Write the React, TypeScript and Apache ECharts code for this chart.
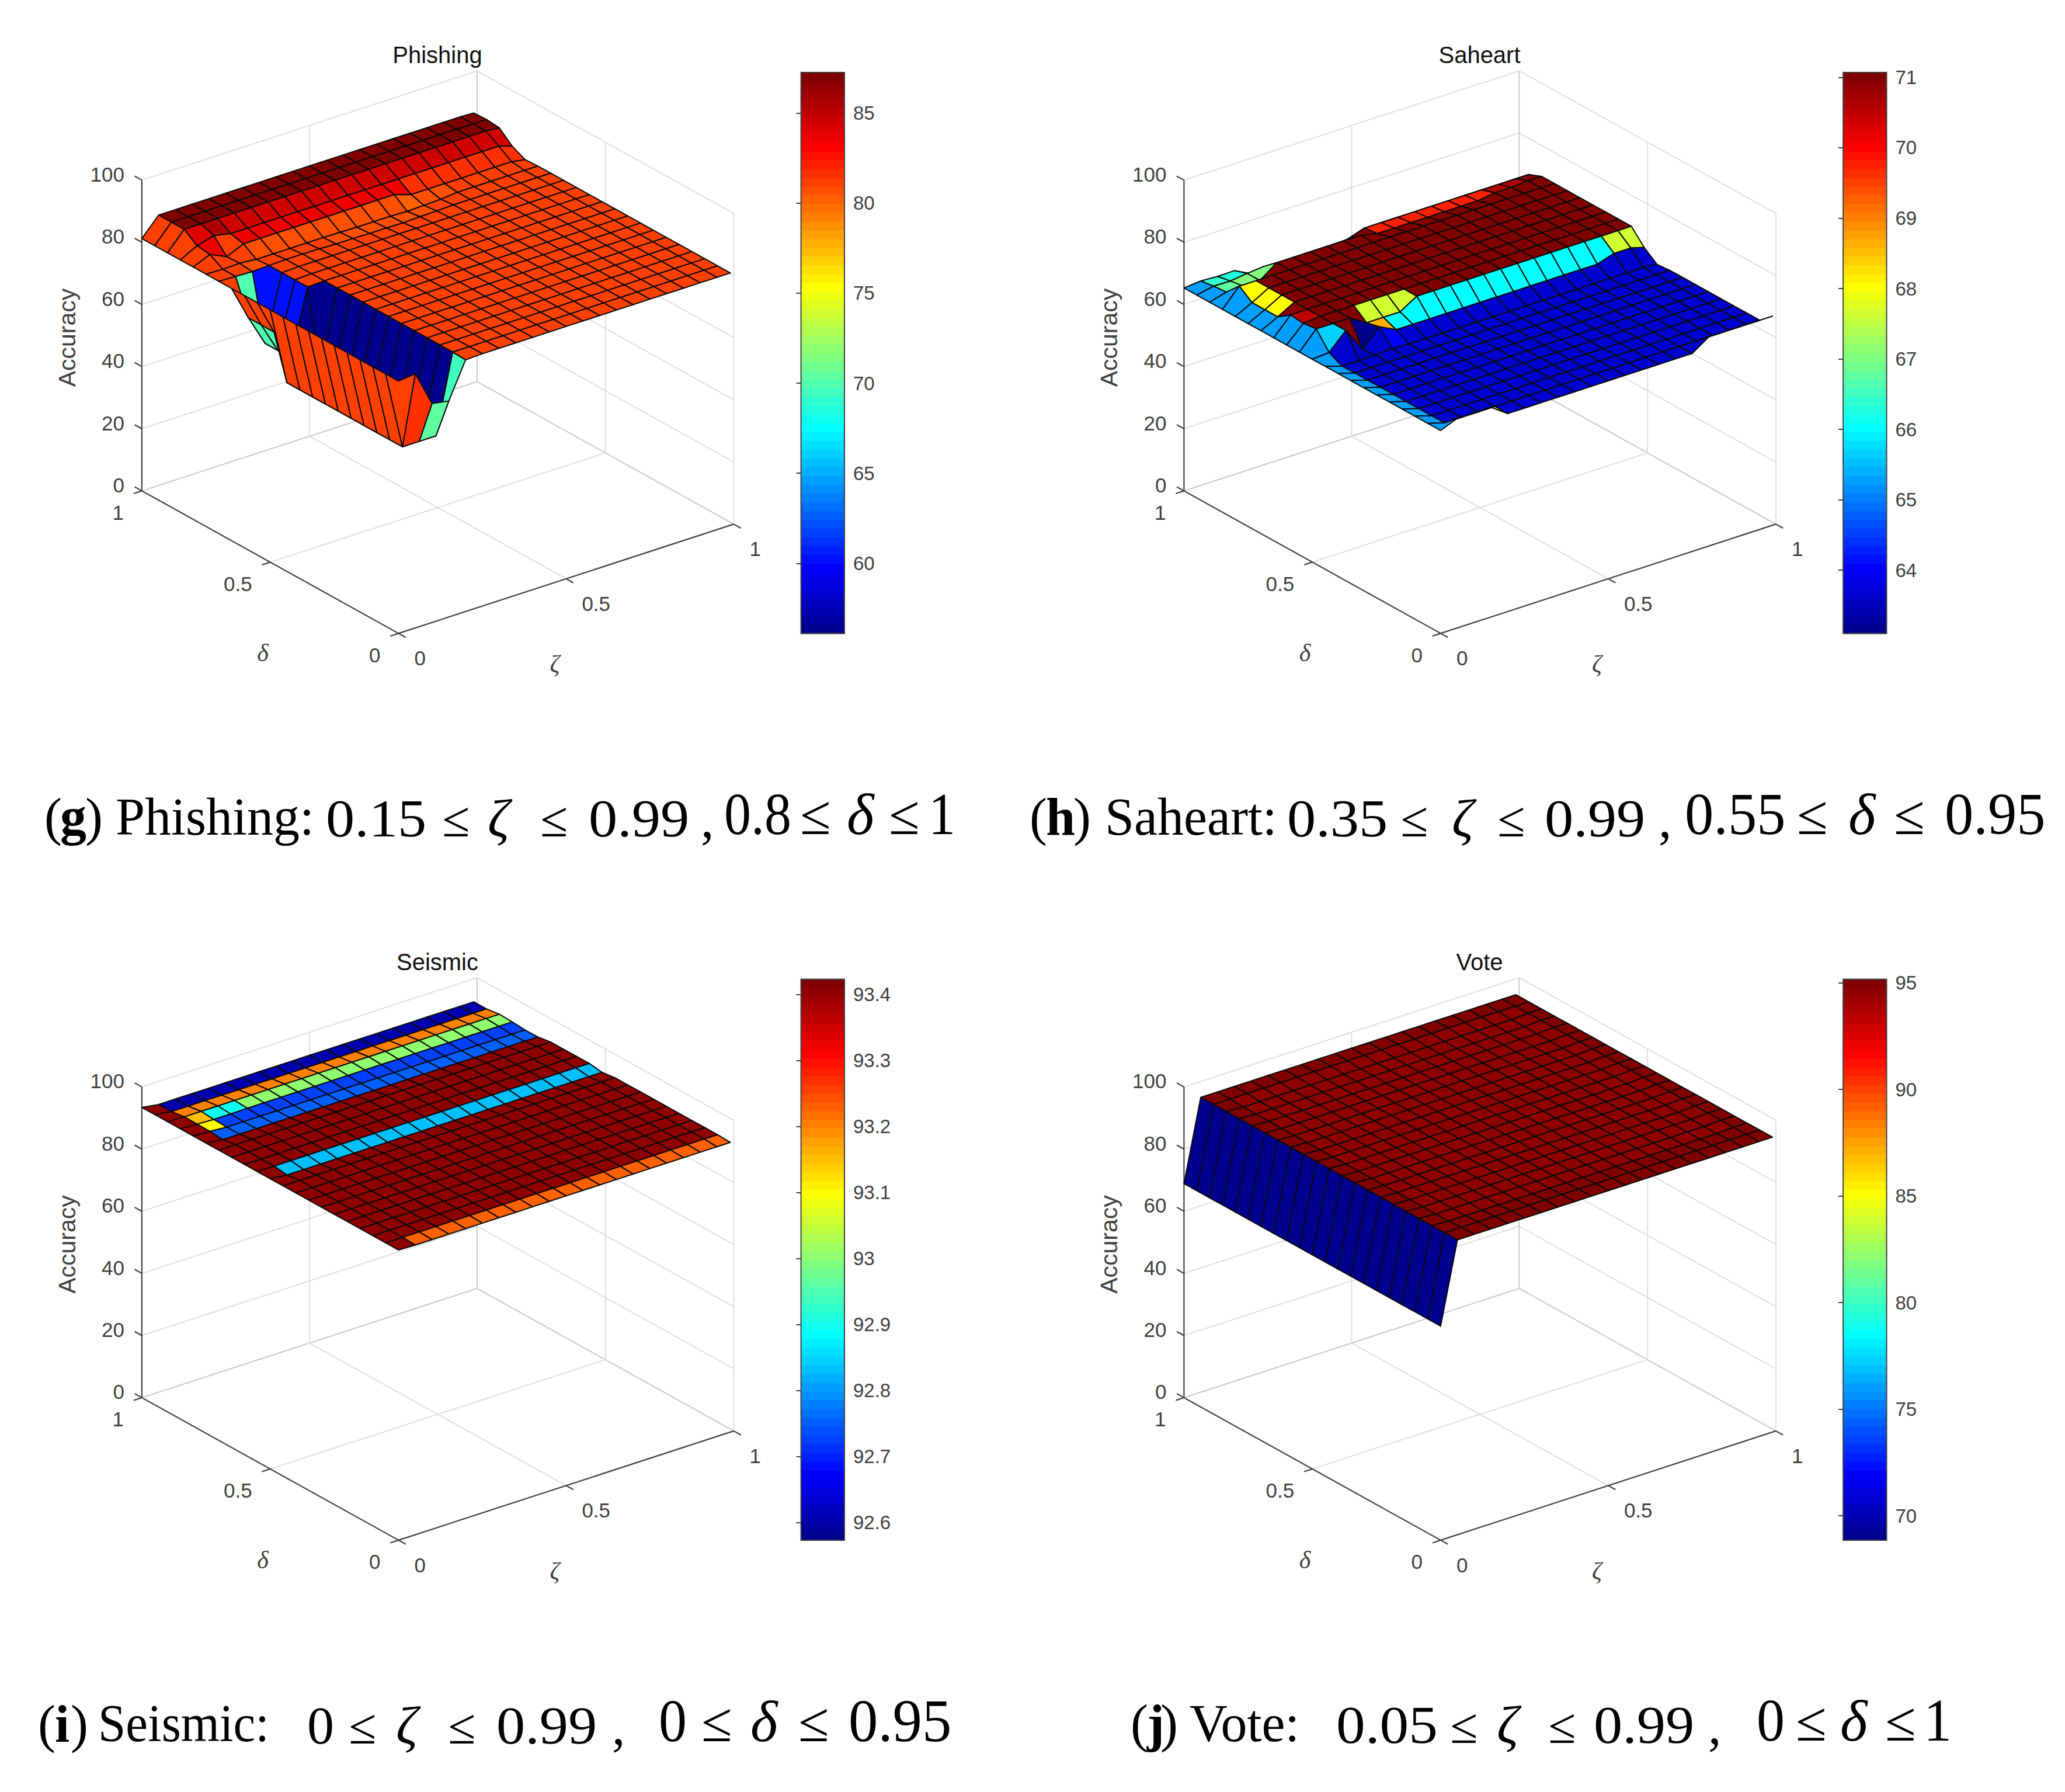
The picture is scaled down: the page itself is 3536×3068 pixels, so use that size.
import React, { useEffect, useRef } from "react";
import * as echarts from "echarts";

// ---- data -------------------------------------------------------------
const zetaSteps = [0, 0.05, 0.1, 0.15, 0.2, 0.25, 0.3, 0.35, 0.4, 0.45, 0.5, 0.55, 0.6, 0.65, 0.7, 0.75, 0.8, 0.85, 0.9, 0.95, 0.99];
const deltaSteps = [0, 0.05, 0.1, 0.15, 0.2, 0.25, 0.3, 0.35, 0.4, 0.45, 0.5, 0.55, 0.6, 0.65, 0.7, 0.75, 0.8, 0.85, 0.9, 0.95, 1];
const accuracyTicks = [0, 20, 40, 60, 80, 100];
const unitTicks = [0, 0.5, 1];

// every row holds one delta step; its values run along zeta
const phishTrench = [81.2, 56, 56, 56, 81.2, 81.2, 81.2, 81.2, 81.2, 81.2, 81.2, 81.2, 81.2, 81.2, 81.2, 81.2, 81.2, 81.2, 81.2, 81.2, 81.2];
const phishShelf = [81.2, 70, 60, 81, 81.2, 81.2, 81.2, 81.2, 81.2, 81.2, 81.2, 81.2, 81.2, 81.2, 81.2, 81.2, 81.2, 81.2, 81.2, 81.2, 81.2];
const phishingZ = [
  [81.2, 81.8, 70.5, 69.5, 81, 81.2, 81.2, 81.2, 81.2, 81.2, 81.2, 81.2, 81.2, 81.2, 81.2, 81.2, 81.2, 81.2, 81.2, 81.2, 81.2],
  phishTrench, phishTrench, phishTrench, phishTrench, phishTrench, phishTrench, phishTrench, phishTrench, phishTrench, phishTrench,
  phishShelf, phishShelf, phishShelf,
  [81.2, 81, 80.8, 81, 81.2, 81.2, 81.1, 80.9, 80.9, 80.8, 80.8, 80.7, 80.9, 81, 81.2, 81.2, 81.2, 81.2, 81.2, 81.2, 81.2],
  [81.2, 81, 81.2, 80.7, 80.7, 80.7, 80.7, 80.7, 80.6, 80.5, 80.5, 80.5, 80.3, 80.5, 80.7, 81.2, 81.2, 81.2, 81.2, 81.2, 81.2],
  [81.2, 83.5, 81, 83.4, 83.4, 83.4, 83.4, 83.4, 83.4, 83.4, 83.4, 83.4, 83.4, 81.7, 81.7, 81.7, 81.7, 81.7, 81.7, 81.7, 81],
  [81.2, 84, 85.5, 84.4, 84.4, 84.4, 84.4, 84.4, 84.4, 84.4, 84.4, 84.4, 84.4, 84.4, 84.4, 84.4, 84.4, 84.4, 84.4, 84.4, 83],
  [81.2, 87, 87, 87, 87, 87, 87, 87, 87, 87, 87, 87, 87, 87, 87, 87, 87, 87, 87, 87, 86.6],
  [81.2, 87, 87, 87, 87, 87, 87, 87, 87, 87, 87, 87, 87, 87, 87, 87, 87, 87, 87, 87, 87],
  [81.2, 87, 87, 87, 87, 87, 87, 87, 87, 87, 87, 87, 87, 87, 87, 87, 87, 87, 87, 87, 86.8],
];

const saheartLow = [65.3, 63.7, 63.7, 63.7, 63.7, 63.7, 63.7, 63.7, 63.7, 63.7, 63.7, 63.7, 63.7, 63.7, 63.7, 63.7, 63.7, 63.7, 63.7, 63.7, 63.7];
const saheartYellow = [65.3, 68, 71, 71, 71, 71, 71, 71, 71, 71, 71, 71, 71, 71, 71, 71, 71, 71, 71, 71, 71];
const saheartZ = [
  [65.3, 67.5, 67.5, 67.5, 63.7, 63.7, 63.7, 63.7, 63.7, 63.7, 63.7, 63.7, 63.7, 63.7, 63.7, 63.7, 67.3, 67.3, 67.3, 67.3, 67.3],
  saheartLow, saheartLow, saheartLow, saheartLow, saheartLow, saheartLow, saheartLow, saheartLow,
  [65.3, 63.6, 63.5, 63.7, 64, 63.7, 63.7, 63.7, 63.7, 63.7, 63.7, 63.7, 63.7, 63.7, 63.7, 63.7, 63.7, 63.7, 63.7, 63.7, 63.3],
  [65.3, 65.7, 71, 63.2, 68.7, 66, 66, 66, 66, 66, 66, 66, 66, 66, 66, 66, 66, 66, 67.7, 67.7, 66.5],
  [65.3, 71, 71, 71, 67.7, 67.7, 67.7, 71, 71, 71, 71, 71, 71, 71, 71, 71, 71, 71, 71, 71, 71],
  [65.3, 70.5, 71, 71, 71, 71, 71, 71, 71, 71, 71, 71, 71, 71, 71, 71, 71, 71, 71, 71, 71],
  [65.3, 70.9, 71, 71, 71, 71, 71, 71, 71, 71, 71, 71, 71, 71, 71, 71, 71, 71, 71, 71, 71],
  saheartYellow, saheartYellow, saheartYellow,
  [65.3, 71, 71, 71, 71, 71, 71, 71, 71, 71, 71, 71, 71, 71, 71, 71, 71, 71, 71, 71, 71],
  [65.3, 66.8, 67, 67, 71, 71, 71, 71, 71, 71, 69.8, 69.8, 69.8, 69.8, 69.8, 69.8, 69.8, 70.6, 70.6, 71, 71],
  [65.3, 66.4, 66.3, 67, 67.5, 65, 65, 65, 65, 67.5, 69.3, 69.3, 69.3, 69.3, 69.3, 69.3, 69.3, 69.3, 69.3, 69.3, 69.3],
  [65.3, 65.8, 65.5, 65.6, 62.9, 63.5, 63.5, 63.5, 63.5, 63.5, 63.5, 65.6, 65.6, 65.6, 65.6, 65.6, 65.6, 65.6, 65.6, 65.6, 65.6],
];

const seismicPlain = [93.4, 93.4, 93.4, 93.4, 93.4, 93.4, 93.4, 93.4, 93.4, 93.4, 93.4, 93.4, 93.4, 93.4, 93.4, 93.4, 93.4, 93.4, 93.4, 93.4, 93.4];
const seismicFront = [93.4, 93.23, 93.23, 93.23, 93.23, 93.23, 93.23, 93.23, 93.23, 93.23, 93.23, 93.23, 93.23, 93.23, 93.23, 93.23, 93.23, 93.23, 93.23, 93.23, 93.23];
const seismicOrange = [93.4, 93.2, 93.2, 93.2, 93.2, 93.2, 93.2, 93.2, 93.2, 93.2, 93.2, 93.2, 93.2, 93.2, 93.2, 93.2, 93.2, 93.2, 93.2, 93.2, 93.2];
const seismicNavy = [93.4, 92.6, 92.6, 92.6, 92.6, 92.6, 92.6, 92.6, 92.6, 92.6, 92.6, 92.6, 92.6, 92.6, 92.6, 92.6, 92.6, 92.6, 92.6, 92.6, 92.6];
const seismicZ = [
  seismicFront,
  seismicPlain, seismicPlain, seismicPlain, seismicPlain, seismicPlain, seismicPlain, seismicPlain, seismicPlain, seismicPlain,
  [93.4, 92.83, 92.83, 92.83, 92.83, 92.83, 92.83, 92.83, 92.83, 92.83, 92.83, 92.83, 92.83, 92.83, 92.83, 92.83, 92.83, 92.83, 92.83, 92.83, 92.83],
  seismicPlain, seismicPlain, seismicPlain, seismicPlain,
  [93.4, 92.75, 92.75, 92.75, 92.75, 92.75, 92.75, 92.75, 92.75, 92.75, 92.75, 92.75, 92.75, 92.75, 92.75, 92.75, 92.75, 92.75, 92.75, 92.75, 92.75],
  [93.4, 93.1, 92.72, 92.72, 92.72, 92.72, 92.72, 92.72, 92.72, 92.72, 92.72, 92.72, 92.72, 92.72, 92.72, 92.72, 92.72, 92.72, 92.72, 92.72, 92.72],
  [93.4, 93.15, 92.9, 92.9, 93, 93, 93, 93, 93, 93, 93, 93, 93, 93, 93, 93, 93, 93, 93, 93, 93],
  seismicOrange,
  seismicNavy, seismicNavy,
];

const voteOuter = [68.9, 94.9, 94.9, 94.9, 94.9, 94.9, 94.9, 94.9, 94.9, 94.9, 94.9, 94.9, 94.9, 94.9, 94.9, 94.9, 94.9, 94.9, 94.9, 94.9, 94.9];
const voteInner = [68.9, 94.9, 94.6, 94.6, 94.6, 94.6, 94.6, 94.6, 94.6, 94.6, 94.6, 94.6, 94.6, 94.6, 94.6, 94.6, 94.6, 94.6, 94.6, 94.9, 94.9];
const voteZ = [
  voteOuter, voteOuter,
  voteInner, voteInner, voteInner, voteInner, voteInner, voteInner, voteInner, voteInner, voteInner,
  voteInner, voteInner, voteInner, voteInner, voteInner, voteInner, voteInner, voteInner,
  voteOuter, voteOuter,
];

const titles = ["Phishing", "Saheart", "Seismic", "Vote"];
const surfaces = [phishingZ, saheartZ, seismicZ, voteZ];
const colorMins = [56.1, 63.1, 92.573, 68.85];
const colorMaxs = [87.26, 71.07, 93.423, 95.17];
const colorTicks = [
  [60, 65, 70, 75, 80, 85],
  [64, 65, 66, 67, 68, 69, 70, 71],
  [92.6, 92.7, 92.8, 92.9, 93, 93.1, 93.2, 93.3, 93.4],
  [70, 75, 80, 85, 90, 95],
];

// ---- layout -----------------------------------------------------------
const WIDTH = 3536;
const HEIGHT = 3068;
const OFFSETS = [[0, 0], [1784.5, 0], [0, 1552.5], [1784.5, 1552.5]];
const FRONT = [682.4, 1084.4];
const ZETA_VEC = [574, -187];
const DELTA_VEC = [-439.5, -244];
const Z_UNIT = 5.32;
const SANS = "Liberation Sans";
const SERIF = "Liberation Serif";
const INK = "#404040";

type Piece = [string, number, number, number, string?, number?, number?];
// text, left x, baseline y, font size, style, horizontal stretch, vertical stretch
const captions: Piece[] = [
  ["(", 76, 1425, 90], ["g", 103, 1425, 90, "b"], [")", 146, 1425, 90],
  ["Phishing:", 198, 1425, 90],
  ["0.15", 558, 1429, 92, "", 1.07], ["≤", 757, 1429, 86], ["ζ", 835, 1429, 92, "i"], ["≤", 925, 1429, 86],
  ["0.99", 1008, 1429, 92, "", 1.07], [",", 1200, 1429, 90],
  ["0.8", 1240, 1424, 92, "", 1, 1.1], ["≤", 1370, 1424, 96], ["δ", 1450, 1424, 100, "i"], ["≤", 1522, 1424, 96], ["1", 1590, 1424, 92, "", 1, 1.1],

  ["(", 1763, 1425, 90], ["h", 1791, 1425, 90, "b"], [")", 1838, 1425, 90],
  ["Saheart:", 1892, 1425, 90],
  ["0.35", 2204, 1429, 92, "", 1.07], ["≤", 2398, 1429, 86], ["ζ", 2486, 1429, 92, "i"], ["≤", 2564, 1429, 86],
  ["0.99", 2645, 1429, 92, "", 1.07], [",", 2840, 1429, 90],
  ["0.55", 2885, 1424, 93, "", 1.06, 1.1], ["≤", 3077, 1424, 96], ["δ", 3165, 1424, 100, "i"], ["≤", 3243, 1424, 96], ["0.95", 3330, 1424, 93, "", 1.06, 1.1],

  ["(", 65, 2978, 90], ["i", 94, 2978, 90, "b"], [")", 121, 2978, 90],
  ["Seismic:", 168, 2978, 90, "", 0.945],
  ["0", 526, 2982, 92], ["≤", 597, 2982, 86], ["ζ", 678, 2982, 92, "i"], ["≤", 767, 2982, 86],
  ["0.99", 850, 2982, 92, "", 1.07], [",", 1048, 2982, 90],
  ["0", 1128, 2977, 96, "", 1, 1.08], ["≤", 1201, 2977, 96], ["δ", 1285, 2977, 100, "i"], ["≤", 1367, 2977, 96], ["0.95", 1453, 2977, 96, "", 1.05, 1.08],

  ["(", 1936, 2977, 90], ["j", 1964, 2977, 90, "b"], [")", 1987, 2977, 90],
  ["Vote:", 2037, 2977, 90],
  ["0.05", 2288, 2981, 92, "", 1.08], ["≤", 2483, 2981, 86], ["ζ", 2563, 2981, 92, "i"], ["≤", 2651, 2981, 86],
  ["0.99", 2729, 2981, 92, "", 1.07], [",", 2925, 2981, 90],
  ["0", 3008, 2976, 96, "", 1, 1.08], ["≤", 3075, 2976, 96], ["δ", 3151, 2976, 100, "i"], ["≤", 3228, 2976, 96], ["1", 3294, 2976, 96, "", 1, 1.08],
];

// ---- helpers ----------------------------------------------------------
function jet(t: number): string {
  const i = Math.max(0, Math.min(63, Math.floor(t * 64)));
  const v = (i + 1) / 64;
  const chan = (c: number) => Math.round(255 * Math.max(0, Math.min(1, 1.5 - Math.abs(4 * v - c))));
  return `rgb(${chan(3)},${chan(2)},${chan(1)})`;
}

function project(zeta: number, delta: number, z: number): number[] {
  return [
    FRONT[0] + zeta * ZETA_VEC[0] + delta * DELTA_VEC[0],
    FRONT[1] + zeta * ZETA_VEC[1] + delta * DELTA_VEC[1] - z * Z_UNIT,
  ];
}

type Seg = [number, number, number, number, number, number, string, number];
const GRID_C = "#dfdfdf";
const EDGE_C = "#c9c9c9";
function frameSegments(): Seg[] {
  const out: Seg[] = [];
  accuracyTicks.forEach((z) => {
    out.push([0, 1, z, 1, 1, z, z === 0 ? EDGE_C : GRID_C, 2]);
    out.push([1, 1, z, 1, 0, z, z === 0 ? EDGE_C : GRID_C, 2]);
  });
  out.push([0.5, 1, 0, 0.5, 1, 100, GRID_C, 2]);
  out.push([1, 1, 0, 1, 1, 100, EDGE_C, 2]);
  out.push([1, 0.5, 0, 1, 0.5, 100, GRID_C, 2]);
  out.push([1, 0, 0, 1, 0, 100, GRID_C, 2]);
  out.push([0.5, 0, 0, 0.5, 1, 0, GRID_C, 2]);
  out.push([0, 0.5, 0, 1, 0.5, 0, GRID_C, 2]);
  out.push([0, 1, 0, 0, 1, 100, INK, 2.2]);
  out.push([0, 0, 0, 0, 1, 0, INK, 2.2]);
  out.push([0, 0, 0, 1, 0, 0, INK, 2.2]);
  accuracyTicks.forEach((z) => out.push([0, 1, z, 0, 1.028, z, INK, 2.2]));
  unitTicks.forEach((d) => out.push([0, d, 0, -0.0245, d, 0, INK, 2.2]));
  unitTicks.forEach((a) => out.push([a, 0, 0, a, -0.028, 0, INK, 2.2]));
  return out;
}

type Lab = [string, number, number, string, string];
function tickLabels(): Lab[] {
  const out: Lab[] = [];
  accuracyTicks.forEach((z) => {
    const p = project(0, 1, z);
    out.push([String(z), p[0] - 30, p[1] - 10, "right", "s"]);
  });
  unitTicks.forEach((d) => {
    const p = project(0, d, 0);
    out.push([String(d), p[0] - 31, p[1] + 37, "right", "s"]);
  });
  unitTicks.forEach((a) => {
    const p = project(a, 0, 0);
    out.push([String(a), p[0] + 27, p[1] + 42.5, "left", "s"]);
  });
  out.push(["δ", 450, 1118, "center", "m"]);
  out.push(["ζ", 950, 1137, "center", "m"]);
  return out;
}

function buildOption() {
  const grids: any[] = [];
  const xAxes: any[] = [];
  const yAxes: any[] = [];
  const series: any[] = [];
  const graphics: any[] = [];
  const segs = frameSegments();
  const labs = tickLabels();

  OFFSETS.forEach(([ox, oy], p) => {
    // hidden pixel-scale axes which carry the projected surface
    const plotIdx = grids.length;
    grids.push({ left: ox, top: oy, width: 1500, height: 1300, show: false });
    xAxes.push({ type: "value", gridIndex: plotIdx, min: 0, max: 1500, show: false });
    yAxes.push({ type: "value", gridIndex: plotIdx, min: 0, max: 1300, inverse: true, show: false });

    series.push({
      type: "custom", xAxisIndex: plotIdx, yAxisIndex: plotIdx, z: 1, silent: true, clip: false,
      data: segs.map((_, i) => [i, 0]),
      renderItem: (params: any, api: any) => {
        const s = segs[api.value(0)];
        const a = api.coord(project(s[0], s[1], s[2]));
        const b = api.coord(project(s[3], s[4], s[5]));
        return { type: "line", shape: { x1: a[0], y1: a[1], x2: b[0], y2: b[1] }, style: { stroke: s[6], lineWidth: s[7], fill: null } };
      },
    });

    series.push({
      type: "custom", xAxisIndex: plotIdx, yAxisIndex: plotIdx, z: 2, silent: true, clip: false,
      data: labs.map((_, i) => [i, 0]),
      renderItem: (params: any, api: any) => {
        const l = labs[api.value(0)];
        const c = api.coord([l[1], l[2]]);
        const math = l[4] === "m";
        return {
          type: "text", x: c[0], y: c[1],
          style: {
            text: l[0], fontSize: math ? 42 : 35, fontFamily: math ? SERIF : SANS, fontStyle: math ? "italic" : "normal",
            fill: INK, align: l[3], textAlign: l[3], verticalAlign: "middle", textVerticalAlign: "middle",
          },
        };
      },
    });

    // surface, far cells first
    const zm = surfaces[p];
    const cells: number[][] = [];
    for (let k = zetaSteps.length - 2; k >= 0; k--) {
      for (let j = deltaSteps.length - 2; j >= 0; j--) cells.push([k, j]);
    }
    const cmin = colorMins[p];
    const cmax = colorMaxs[p];
    series.push({
      type: "custom", xAxisIndex: plotIdx, yAxisIndex: plotIdx, z: 3, silent: true, clip: false,
      data: cells,
      renderItem: (params: any, api: any) => {
        const k = api.value(0);
        const j = api.value(1);
        const corners = [[k, j], [k + 1, j], [k + 1, j + 1], [k, j + 1]];
        const points = corners.map(([a, b]) => api.coord(project(zetaSteps[a], deltaSteps[b], zm[b][a])));
        return {
          type: "polygon", shape: { points },
          style: { fill: jet((zm[j][k] - cmin) / (cmax - cmin)), stroke: "#0a0a0a", lineWidth: 2, lineJoin: "round" },
        };
      },
    });

    // colour bar
    const barIdx = grids.length;
    grids.push({ left: 1371.6 + ox, top: 124 + oy, width: 74.4, height: 960.6, show: false });
    xAxes.push({ type: "value", gridIndex: barIdx, min: 0, max: 1, show: false });
    yAxes.push({
      type: "value", gridIndex: barIdx, min: cmin, max: cmax, position: "right", z: 6,
      axisLine: { show: false },
      splitLine: { show: false },
      axisTick: { show: true, inside: true, length: 8, customValues: colorTicks[p], lineStyle: { color: INK, width: 2 } },
      axisLabel: { show: true, margin: 15, fontSize: 33, fontFamily: SANS, color: INK, customValues: colorTicks[p] },
    });
    const levels = Array.from({ length: 64 }, (_, i) => [i, 0]);
    series.push({
      type: "custom", xAxisIndex: barIdx, yAxisIndex: barIdx, z: 3, silent: true, clip: false,
      data: levels,
      renderItem: (params: any, api: any) => {
        const i = api.value(0);
        const step = (cmax - cmin) / 64;
        const a = api.coord([0, cmin + i * step]);
        const b = api.coord([1, cmin + (i + 1) * step]);
        return {
          type: "rect",
          shape: { x: a[0], y: b[1], width: b[0] - a[0], height: a[1] - b[1] + 0.6 },
          style: { fill: jet((i + 0.5) / 64), stroke: null },
        };
      },
    });

    graphics.push({
      type: "rect", x: 1371.6 + ox, y: 124 + oy, z: 20,
      shape: { x: 0, y: 0, width: 74.4, height: 960.6 },
      style: { fill: "none", stroke: INK, lineWidth: 2 },
    });
    graphics.push({
      type: "text", x: 749 + ox, y: 94 + oy, z: 20,
      style: { text: titles[p], fontSize: 40, fontFamily: SANS, fill: "#111", align: "center", textAlign: "center", verticalAlign: "middle", textVerticalAlign: "middle" },
    });
    graphics.push({
      type: "text", x: 114.5 + ox, y: 578 + oy, rotation: Math.PI / 2, z: 20,
      style: { text: "Accuracy", fontSize: 41, fontFamily: SANS, fill: INK, align: "center", textAlign: "center", verticalAlign: "middle", textVerticalAlign: "middle" },
    });
  });

  captions.forEach(([text, x, base, size, kind, sx, sy]) => {
    const stretchY = sy ?? 1;
    graphics.push({
      type: "text", x, y: base - size * 0.3 * stretchY, z: 20, scaleX: sx ?? 1, scaleY: stretchY,
      style: {
        text, fontSize: size, fontFamily: SERIF, fontStyle: kind === "i" ? "italic" : "normal",
        fontWeight: kind === "b" ? "bold" : "normal", fill: "#000",
        align: "left", textAlign: "left", verticalAlign: "middle", textVerticalAlign: "middle",
      },
    });
  });

  return {
    animation: false,
    backgroundColor: "#fff",
    grid: grids,
    xAxis: xAxes,
    yAxis: yAxes,
    series,
    graphic: { elements: graphics },
  };
}

export default function App() {
  const ref = useRef<HTMLDivElement>(null);
  useEffect(() => {
    if (!ref.current) return;
    const chart = echarts.init(ref.current, undefined, { renderer: "svg" });
    chart.setOption(buildOption() as any);
    return () => chart.dispose();
  }, []);
  return <div ref={ref} style={{ position: "absolute", left: 0, top: 0, width: WIDTH, height: HEIGHT }} />;
}
